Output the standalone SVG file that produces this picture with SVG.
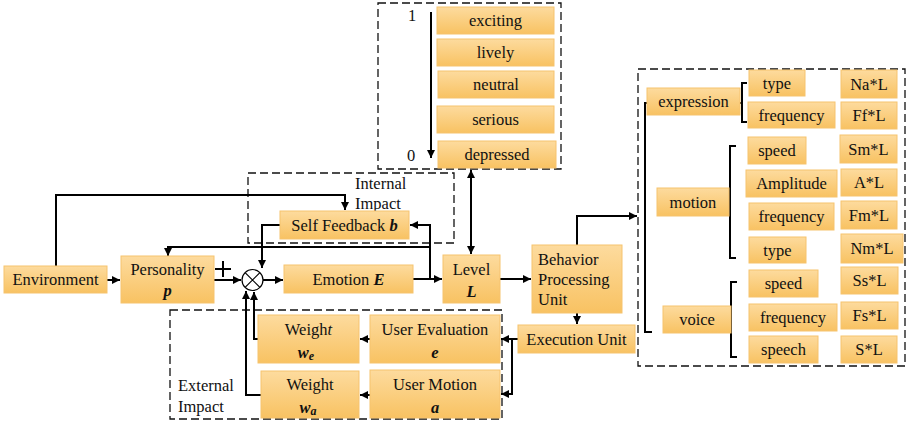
<svg xmlns="http://www.w3.org/2000/svg" width="911" height="425" viewBox="0 0 911 425">
<defs>
<linearGradient id="og" x1="0" y1="0" x2="0" y2="1">
<stop offset="0" stop-color="#FDDB9E"/>
<stop offset="1" stop-color="#F8C262"/>
</linearGradient>
<marker id="ah" viewBox="0 0 10 10" refX="10" refY="5" markerWidth="8" markerHeight="8" markerUnits="userSpaceOnUse" orient="auto-start-reverse">
<path d="M0,0 L10,5 L0,10 z" fill="#000"/>
</marker>
<style>
.b{fill:url(#og);stroke:#F6C36E;stroke-width:1}
text{font-family:'Liberation Serif','Times New Roman','DejaVu Serif',serif;font-size:16.5px;fill:#111}
.t{text-anchor:middle}
.bi{font-weight:bold;font-style:italic}
.d{fill:none;stroke:#111;stroke-width:1.3;stroke-dasharray:8,4}
.c{fill:none;stroke:#000;stroke-width:2}
.a{fill:none;stroke:#000;stroke-width:2;marker-end:url(#ah)}
</style>
</defs>
<rect width="911" height="425" fill="#fff"/>

<g id="frames">
<rect class="d" x="378" y="3" width="183" height="166"/>
<rect class="d" x="248" y="173" width="206" height="70"/>
<rect class="d" x="170" y="310" width="332" height="109"/>
<rect class="d" x="638" y="69" width="267" height="297"/>
<text x="355" y="189">Internal</text>
<text x="355" y="209">Impact</text>
<text x="178" y="391">External</text>
<text x="178" y="412">Impact</text>
</g>

<g id="connectors">
<path class="a" d="M431,12 V158"/>
<path class="c" d="M471,170 V254" marker-start="url(#ah)" marker-end="url(#ah)"/>
<path class="a" d="M107,280 H120"/>
<path class="a" d="M56,266 V195 H345 V210"/>
<path class="a" d="M280,225 H262 V268"/>
<path class="a" d="M214,280 H241"/>
<path class="a" d="M263,280 H283"/>
<path class="a" d="M413,279 H442"/>
<path class="a" d="M430,279 V225 H410"/>
<path class="a" d="M430,247 H168 V256"/>
<path class="a" d="M500,279 H531"/>
<path class="a" d="M577,313 V324"/>
<path class="a" d="M577,245 V216 H637"/>
<path class="a" d="M518,339 H501"/>
<path class="a" d="M512,339 V394 H501"/>
<path class="a" d="M370,339 H360"/>
<path class="a" d="M370,395 H360"/>
<path class="a" d="M258,339 H254 V292"/>
<path class="a" d="M261,395 H246 V291"/>
<path class="c" d="M651,103 H645 V332 H652"/>
<path class="c" d="M747,83 H742 V122 H747 M742,103 H736"/>
<path class="c" d="M736,146 H730 V258 H736 M730,203 H725"/>
<path class="c" d="M737,282 H731 V357 H737 M731,320 H726"/>
<path d="M215,269 H231 M223,261 V277" stroke="#000" stroke-width="2" fill="none"/>
</g>

<g id="levels">
<text x="408" y="21">1</text>
<text x="407" y="161">0</text>
<g id="n-exciting"><rect class="b" x="437" y="7" width="117" height="27"/><text class="t" x="495.5" y="26">exciting</text></g>
<g id="n-lively"><rect class="b" x="437" y="39" width="117" height="27"/><text class="t" x="495.5" y="58">lively</text></g>
<g id="n-neutral"><rect class="b" x="438" y="71" width="116" height="27"/><text class="t" x="496" y="90">neutral</text></g>
<g id="n-serious"><rect class="b" x="437" y="106" width="117" height="27"/><text class="t" x="495.5" y="125">serious</text></g>
<g id="n-depressed"><rect class="b" x="438" y="141" width="118" height="27"/><text class="t" x="497" y="160">depressed</text></g>
</g>

<g id="n-environment"><rect class="b" x="4" y="266" width="103" height="27"/><text class="t" x="55.5" y="285">Environment</text></g>
<g id="n-personality"><rect class="b" x="121" y="256" width="93" height="47"/><text class="t" x="167.5" y="275">Personality</text><text class="t bi" x="167.5" y="296">p</text></g>
<g id="n-mult">
<circle cx="252.5" cy="280" r="10.5" fill="#fff" stroke="#000" stroke-width="1.2"/>
<path d="M245.1,272.6 L259.9,287.4 M259.9,272.6 L245.1,287.4" stroke="#000" stroke-width="1.2"/>
</g>
<g id="n-selffeedback"><rect class="b" x="280" y="211" width="129" height="28"/><text class="t" x="344.5" y="231">Self Feedback <tspan class="bi">b</tspan></text></g>
<g id="n-emotion"><rect class="b" x="284" y="265" width="129" height="28"/><text class="t" x="348.5" y="285">Emotion <tspan class="bi">E</tspan></text></g>
<g id="n-level"><rect class="b" x="443" y="255" width="57" height="48"/><text class="t" x="471.5" y="275">Level</text><text class="t bi" x="471.5" y="297">L</text></g>
<g id="n-behavior"><rect class="b" x="532" y="245" width="90" height="68"/><text x="538" y="265">Behavior</text><text x="538" y="285">Processing</text><text x="538" y="305">Unit</text></g>
<g id="n-execution"><rect class="b" x="518" y="325" width="117" height="28"/><text class="t" x="576.5" y="345">Execution Unit</text></g>
<g id="n-weighte"><rect class="b" x="258" y="315" width="101" height="48"/><text class="t" x="308.5" y="335">Weigh<tspan font-style="italic">t</tspan></text><text class="t bi" x="306" y="358">w<tspan font-size="12" dy="2">e</tspan></text></g>
<g id="n-usereval"><rect class="b" x="370" y="315" width="130" height="48"/><text class="t" x="435" y="335">User Evaluation</text><text class="t bi" x="435" y="358">e</text></g>
<g id="n-weighta"><rect class="b" x="261" y="371" width="98" height="47"/><text class="t" x="310" y="390">Weight</text><text class="t bi" x="308" y="413">w<tspan font-size="12" dy="2">a</tspan></text></g>
<g id="n-usermotion"><rect class="b" x="370" y="370" width="130" height="48"/><text class="t" x="435" y="390">User Motion</text><text class="t bi" x="435" y="413">a</text></g>

<g id="n-expression"><rect class="b" x="647" y="88" width="93" height="27"/><text class="t" x="693.5" y="107">expression</text></g>
<g id="n-etype"><rect class="b" x="749" y="70" width="56" height="26"/><text class="t" x="777" y="89">type</text></g>
<g id="n-efreq"><rect class="b" x="748" y="102" width="87" height="26"/><text class="t" x="791.5" y="121">frequency</text></g>
<g id="n-nal"><rect class="b" x="841" y="70" width="56" height="28"/><text class="t" x="869" y="90">Na*L</text></g>
<g id="n-ffl"><rect class="b" x="841" y="102" width="56" height="27"/><text class="t" x="869" y="121">Ff*L</text></g>

<g id="n-motion"><rect class="b" x="657" y="188" width="72" height="28"/><text class="t" x="693" y="208">motion</text></g>
<g id="n-mspeed"><rect class="b" x="748" y="137" width="58" height="27"/><text class="t" x="777" y="156">speed</text></g>
<g id="n-smL"><rect class="b" x="840" y="135" width="57" height="28"/><text class="t" x="868.5" y="155">Sm*L</text></g>
<g id="n-amp"><rect class="b" x="746" y="170" width="91" height="27"/><text class="t" x="791.5" y="189">Amplitude</text></g>
<g id="n-al"><rect class="b" x="841" y="169" width="56" height="27"/><text class="t" x="869" y="188">A*L</text></g>
<g id="n-mfreq"><rect class="b" x="749" y="203" width="85" height="27"/><text class="t" x="791.5" y="222">frequency</text></g>
<g id="n-fml"><rect class="b" x="841" y="201" width="56" height="28"/><text class="t" x="869" y="221">Fm*L</text></g>
<g id="n-mtype"><rect class="b" x="749" y="237" width="57" height="26"/><text class="t" x="777.5" y="256">type</text></g>
<g id="n-nml"><rect class="b" x="841" y="234" width="62" height="29"/><text class="t" x="872" y="254">Nm*L</text></g>

<g id="n-voice"><rect class="b" x="663" y="306" width="68" height="27"/><text class="t" x="697" y="325">voice</text></g>
<g id="n-vspeed"><rect class="b" x="749" y="270" width="69" height="27"/><text class="t" x="783.5" y="289">speed</text></g>
<g id="n-ssl"><rect class="b" x="841" y="267" width="57" height="27"/><text class="t" x="869.5" y="286">Ss*L</text></g>
<g id="n-vfreq"><rect class="b" x="749" y="304" width="88" height="27"/><text class="t" x="793" y="323">frequency</text></g>
<g id="n-fsl"><rect class="b" x="841" y="302" width="57" height="27"/><text class="t" x="869.5" y="321">Fs*L</text></g>
<g id="n-speech"><rect class="b" x="749" y="336" width="69" height="27"/><text class="t" x="783.5" y="355">speech</text></g>
<g id="n-sl"><rect class="b" x="841" y="336" width="56" height="27"/><text class="t" x="869" y="355">S*L</text></g>
</svg>
